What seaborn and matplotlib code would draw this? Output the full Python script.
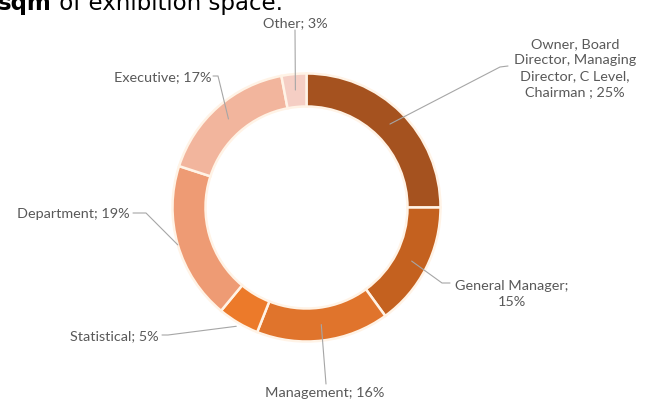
import numpy as np
import matplotlib
matplotlib.use("Agg")
import matplotlib.pyplot as plt
import seaborn as sns

# Survey breakdown by job level
labels = [
    "Owner, Board\nDirector, Managing\nDirector, C Level,\nChairman ; 25%",
    "General Manager;\n15%",
    "Management; 16%",
    "Statistical; 5%",
    "Department; 19%",
    "Executive; 17%",
    "Other; 3%",
]
shares = [25, 15, 16, 5, 19, 17, 3]
colors = ["#A5521F", "#C4611F", "#E0742C", "#EC7A2A", "#EE9B74", "#F2B59D", "#F5CEC4"]

sns.set_theme(style="white")
plt.rcParams["font.family"] = ["Lato", "DejaVu Sans"]

W, H = 645, 406
fig = plt.figure(figsize=(W / 100, H / 100), dpi=100)
ax = fig.add_axes([0, 0, 1, 1])

cx, cy, R, ring = 306.5, H - 208.5, 134, 33
wedges, _ = ax.pie(
    shares, colors=colors, startangle=90, counterclock=False,
    center=(cx, cy), radius=R, frame=True,
    wedgeprops=dict(width=ring, edgecolor="#FFF3E6", linewidth=1.8),
)
ax.set_xlim(0, W)
ax.set_ylim(0, H)
ax.set_aspect("equal")
ax.axis("off")

# label placement: text anchor, alignment, elbow points, anchor radius
layout = [
    ((575, 68), "center", [(508, 67), (500, 68)], 118),
    ((512, 294), "center", [(450, 284), (442, 284)], 118),
    ((325, 393), "center", [(326, 385)], 118),
    ((159, 336), "right", [(162, 336), (168, 336)], 138),
    ((130, 214), "right", [(133, 214), (146, 214)], 134),
    ((211, 77), "right", [(213, 77), (218, 77)], 118),
    ((295, 23), "center", [(295, 31)], 118),
]

grey = "#595959"
cum = np.cumsum([0] + shares[:-1])
for w, lab, share, start, (pos, ha, elbow, ra) in zip(wedges, labels, shares, cum, layout):
    theta = np.deg2rad((start + share / 2) / sum(shares) * 360)
    ax_pt = (cx + ra * np.sin(theta), cy + ra * np.cos(theta))
    pts = [(x, H - y) for x, y in elbow] + [ax_pt]
    xs, ys = zip(*pts)
    ax.plot(xs, ys, color="#A6A6A6", lw=0.8, zorder=3)
    ax.text(pos[0], H - pos[1], lab, ha=ha, va="center", fontsize=10.4,
            color=grey, linespacing=1.42, multialignment="center", zorder=4)

# heading fragment above the chart
base = (H - 10) / H
t1 = fig.text(-2 / W, base, "sqm", fontsize=16.5, fontweight="bold",
              color="black", family="DejaVu Sans", va="baseline", ha="left")
fig.canvas.draw()
bb = t1.get_window_extent()
fig.text(bb.x1 / W, base, " of exhibition space.", fontsize=16.5,
         color="black", family="DejaVu Sans", va="baseline", ha="left")

fig.savefig("out.png", dpi=100)
